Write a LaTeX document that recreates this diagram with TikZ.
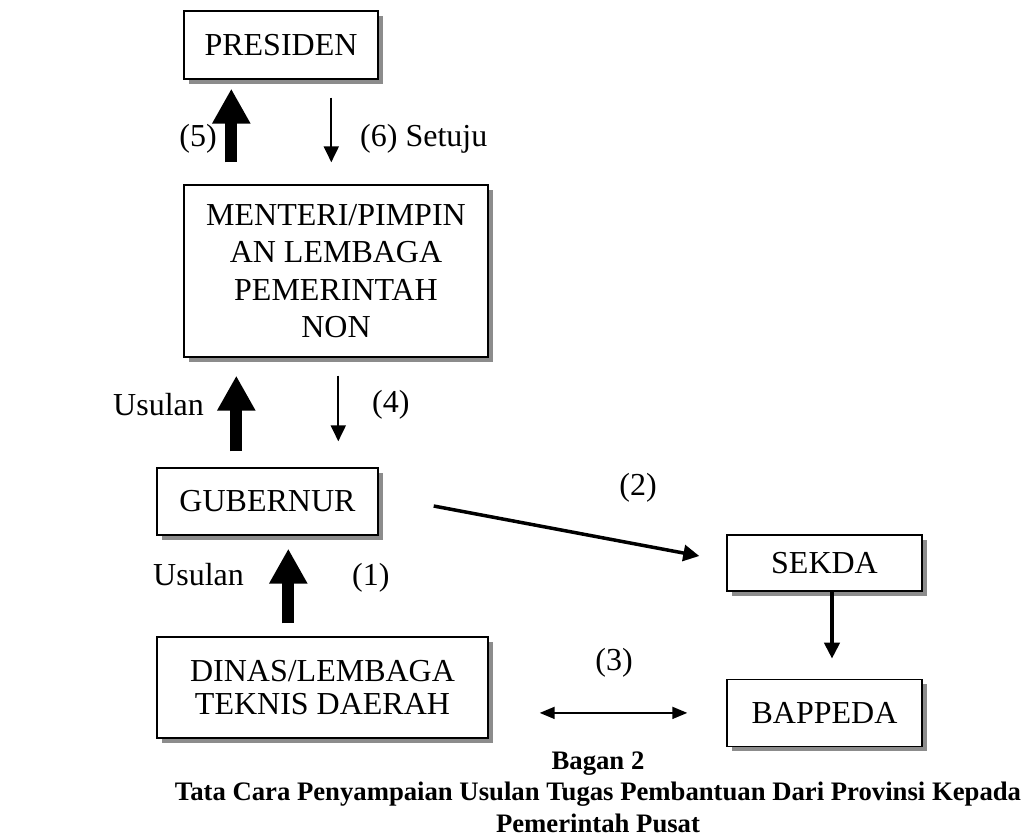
\documentclass[tikz,border=0pt]{standalone}
\usepackage{fontspec}
\setmainfont{Liberation Serif}
\usetikzlibrary{arrows.meta,positioning,shadows,calc}

\begin{document}
\begin{tikzpicture}[x=1pt,y=-1pt,
        box/.style={draw, line width=1.4pt, fill=white, align=center, inner sep=0pt,
                font=\fontsize{32}{37.5}\selectfont,
                drop shadow={shadow xshift=5pt, shadow yshift=-5pt, fill=black!45, opacity=1}},
        lbl/.style={font=\fontsize{32}{38}\selectfont, inner sep=0pt},
        fat/.style={line width=12pt, -{Triangle[width=36pt,length=35pt]}},
        thin/.style={line width=2pt, -{Triangle[width=15pt,length=16pt]}}]
                \useasboundingbox (0,0) rectangle (1029,836);

                % the offices
                \node [box, minimum width=194pt, minimum height=68pt] (pres) at (281,45) {PRESIDEN};
                \node [box, minimum width=304pt, minimum height=172pt] (menteri) at (336,271)
                                {MENTERI/PIMPIN\\AN LEMBAGA\\PEMERINTAH\\NON};
                \node [box, minimum width=331pt, minimum height=101pt,
                        font=\fontsize{32}{33}\selectfont] (dinas) at (322.5,687.5)
                                {DINAS/LEMBAGA\\TEKNIS DAERAH};
                \node [box, minimum width=221pt, minimum height=67pt] (gub) at (267.5,501.5) {GUBERNUR};
                \node [box, minimum width=195pt, minimum height=56pt] (sekda) at (824.5,563) {SEKDA};
                \node [box, minimum width=195pt, minimum height=67pt,
                        below = 87pt of sekda] (bappeda) {BAPPEDA};

                % flows
                \draw[fat, shorten <=22pt, shorten >=9pt]
                        ([xshift=48pt]menteri.north west) -- ([xshift=48pt]pres.south west);
                \draw[thin, shorten <=18pt, shorten >=22pt]
                        ([xshift=148pt]pres.south west) -- ([xshift=148pt]menteri.north west);
                \draw[fat, shorten <=16pt, shorten >=18pt]
                        ([xshift=80pt]gub.north west) -- ([xshift=53pt]menteri.south west);
                \draw[thin, shorten <=18pt, shorten >=26pt]
                        ([xshift=155pt]menteri.south west) -- ([xshift=182pt]gub.north west);
                \draw[fat, shorten <=13pt, shorten >=13pt]
                        ([xshift=132pt]dinas.north west) -- ([xshift=132pt]gub.south west);
                \draw[line width=3.5pt, -{Triangle[width=16pt,length=16pt]}]
                        ($(gub.east)+(55,4.5)$) -- ($(sekda.west)+(-27,-7)$);
                \draw[line width=4pt, -{Triangle[width=15pt,length=16pt]}, shorten >=20pt]
                        ([xshift=7.5pt]sekda.south) -- ([xshift=7.5pt]bappeda.north);
                \draw[line width=1.8pt, {Triangle[width=12pt,length=15pt]}-{Triangle[width=12pt,length=15pt]},
                        shorten <=51pt, shorten >=39pt] (dinas.east |- bappeda.west) -- (bappeda.west);

                % labels
                \node [lbl, anchor=base east] (l5) at (217,146) {(5)};
                \node [lbl, anchor=base west] (l6) at (360,146) {(6) Setuju};
                \node [lbl, anchor=base west] (us1) at (113,415) {Usulan};
                \node [lbl, anchor=base west] (l4) at (372,412) {(4)};
                \node [lbl, anchor=base west] (us2) at (153,585) {Usulan};
                \node [lbl, anchor=base west] (l1) at (352,585) {(1)};
                \node [lbl, anchor=base] (l2) at (638,495) {(2)};
                \node [lbl, anchor=base] (l3) at (614,670) {(3)};

                % caption
                \node [lbl, anchor=base, font=\fontsize{26.7}{31}\bfseries] (cap1) at (598,769) {Bagan 2};
                \node [lbl, anchor=base, font=\fontsize{26.7}{31}\bfseries] (cap2) at (598,800)
                                {Tata Cara Penyampaian Usulan Tugas Pembantuan Dari Provinsi Kepada};
                \node [lbl, anchor=base, font=\fontsize{26.7}{31}\bfseries] (cap3) at (598,832) {Pemerintah Pusat};
\end{tikzpicture}
\end{document}
